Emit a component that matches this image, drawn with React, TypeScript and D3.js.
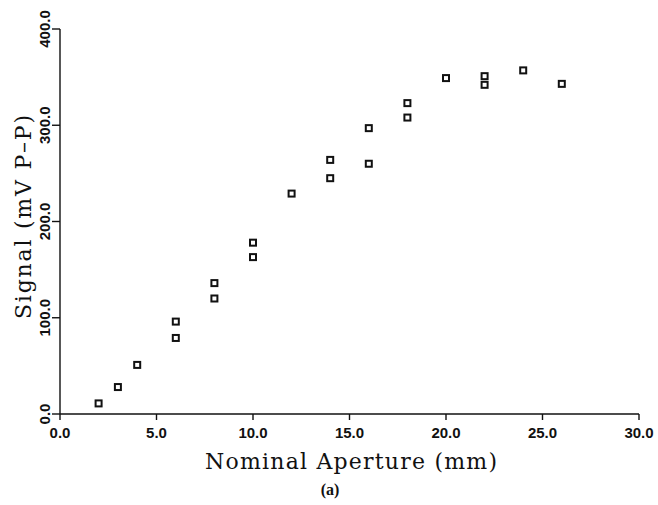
import React from "react";
import * as d3 from "d3";

const apertures = [2, 3, 4, 6, 6, 8, 8, 10, 10, 12, 14, 14, 16, 16, 18, 18, 20, 22, 22, 24, 26];
const signals = [11, 28, 51, 96, 79, 136, 120, 178, 163, 229, 264, 245, 297, 260, 323, 308, 349, 351, 342, 357, 343];
const xTicks = [0, 5, 10, 15, 20, 25, 30];
const yTicks = [0, 100, 200, 300, 400];

const W = 658;
const H = 505;

export default function App() {
  const x = d3.scaleLinear().domain([0, 30]).range([60, 639]);
  const y = d3.scaleLinear().domain([0, 400]).range([414, 29]);
  const fmt = d3.format(".1f");
  const tickFont = "'Liberation Sans', Arial, sans-serif";
  const serif = "'DejaVu Serif', serif";
  const pts = apertures.map((a, i) => ({ a, s: signals[i] }));
  const m = 6;
  return (
    <svg width={W} height={H} style={{ position: "absolute", left: 0, top: 0, background: "#fff" }}>
      <rect width={W} height={H} fill="#fff" />
      {/* axes */}
      <line x1={x(0)} x2={x(30)} y1={y(0)} y2={y(0)} stroke="#111" strokeWidth={1.4} />
      <line x1={x(0)} x2={x(0)} y1={y(0)} y2={y(400)} stroke="#111" strokeWidth={1.4} />
      {xTicks.map((t) => (
        <g key={"xt" + t}>
          <line x1={x(t)} x2={x(t)} y1={y(0)} y2={y(0) + 6} stroke="#111" strokeWidth={1.4} />
          <text x={x(t)} y={438} textAnchor="middle" fontFamily={tickFont} fontWeight="bold" fontSize={15} fill="#111">
            {fmt(t)}
          </text>
        </g>
      ))}
      {yTicks.map((t) => (
        <g key={"yt" + t}>
          <line x1={x(0) - 8} x2={x(0)} y1={y(t)} y2={y(t)} stroke="#111" strokeWidth={1.4} />
          <text
            transform={`translate(50,${y(t)}) rotate(-90)`}
            textAnchor="middle"
            fontFamily={tickFont}
            fontWeight="bold"
            fontSize={15}
            fill="#111"
          >
            {fmt(t)}
          </text>
        </g>
      ))}
      {/* points */}
      {pts.map((p, i) => (
        <rect
          key={"p" + i}
          x={x(p.a) - m / 2}
          y={y(p.s) - m / 2}
          width={m}
          height={m}
          fill="#fff"
          stroke="#111"
          strokeWidth={2}
        />
      ))}
      {/* titles */}
      <text
        x={351}
        y={469}
        textAnchor="middle"
        fontFamily={serif}
        fontSize={22}
        fill="#111"
        textLength={292}
        lengthAdjust="spacing"
      >
        Nominal Aperture  (mm)
      </text>
      <text
        transform={`translate(31,217) rotate(-90)`}
        textAnchor="middle"
        fontFamily={serif}
        fontSize={22}
        fill="#111"
        textLength={204}
        lengthAdjust="spacing"
      >
        Signal (mV  P–P)
      </text>
      <text x={330} y={495} textAnchor="middle" fontFamily="'Liberation Serif', serif" fontWeight="bold" fontSize={16} fill="#111">
        (a)
      </text>
    </svg>
  );
}
